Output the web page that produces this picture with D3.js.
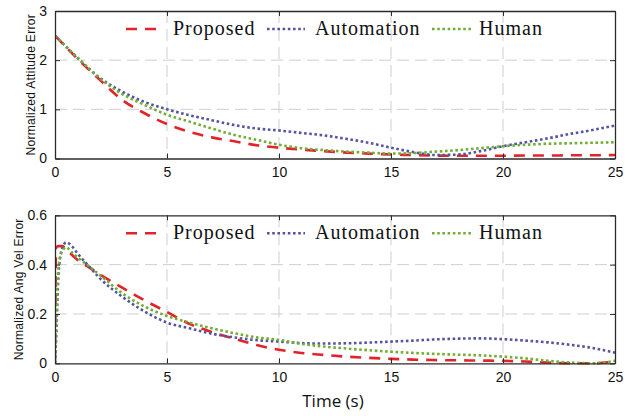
<!DOCTYPE html>
<html>
<head>
<meta charset="utf-8">
<script src="https://cdn.jsdelivr.net/npm/d3@7"></script>
<style>
body{margin:0;background:#fff;}
svg{display:block;}
</style>
</head>
<body>
<svg id="chart" width="635" height="416"></svg>
<script>
//series names and time stamps
var seriesNames = ["Proposed", "Automation", "Human"];
var timeTop = [0,1,2,3,4,5,6,7,8,9,10,11,12,13,14,15,16,17,18,19,20,21,22,23,24,25];
var timeBottom = [0,0.05,0.15,0.3,0.5,0.75,1,1.5,2,3,4,5,6,7,8,9,10,11,12,13,14,15,16,17,18,19,20,21,22,23,24,25];

//normalized attitude error
var attProposed = [2.5,2.03,1.6,1.19,0.92,0.7,0.54,0.43,0.35,0.27,0.22,0.18,0.15,0.12,0.1,0.08,0.07,0.06,0.055,0.055,0.055,0.06,0.06,0.065,0.065,0.07];
var attAutomation = [2.5,2.05,1.64,1.36,1.15,1.0,0.88,0.78,0.68,0.61,0.57,0.52,0.47,0.4,0.32,0.22,0.13,0.07,0.08,0.15,0.25,0.33,0.41,0.5,0.58,0.67];
var attHuman = [2.5,2.05,1.63,1.31,1.09,0.89,0.75,0.61,0.48,0.38,0.28,0.21,0.17,0.14,0.12,0.1,0.11,0.14,0.17,0.21,0.25,0.28,0.3,0.31,0.32,0.33];

//normalized angular velocity error
var velProposed = [0,0.47,0.475,0.475,0.465,0.44,0.42,0.39,0.36,0.307,0.255,0.208,0.16,0.127,0.1,0.074,0.055,0.042,0.034,0.027,0.022,0.018,0.015,0.013,0.012,0.011,0.01,0.007,0.003,0.0,0.0,0.008];
var velAutomation = [0,0.1,0.35,0.46,0.49,0.475,0.446,0.395,0.345,0.27,0.21,0.165,0.142,0.12,0.105,0.094,0.088,0.082,0.08,0.081,0.084,0.088,0.092,0.097,0.1,0.101,0.098,0.092,0.085,0.075,0.062,0.043];
var velHuman = [0,0.15,0.38,0.45,0.47,0.45,0.43,0.395,0.358,0.284,0.23,0.192,0.165,0.142,0.122,0.105,0.095,0.079,0.068,0.06,0.053,0.047,0.042,0.038,0.035,0.032,0.027,0.02,0.01,0.003,0.0,0.01];

//tick values
var xTicks = [0,5,10,15,20,25];
var attTicks = [0,1,2,3];
var velTicks = [0,0.2,0.4,0.6];

var svg = d3.select("#chart");
var left = 55, right = 615;
var colors = ["#e3232b", "#55559f", "#72ad35"];
var dashes = ["11,8", "2.6,2.6", "2.6,2.6"];

var x = d3.scaleLinear().domain([0,25]).range([left,right]);

function drawPanel(id, top, bottom, yMax, yTicks, yFormat, time, seriesList, yLabel, labelX){
	var y = d3.scaleLinear().domain([0,yMax]).range([bottom,top]);
	var g = svg.append("g").attr("class","panel");

	g.append("clipPath").attr("id","clip"+id)
		.append("rect").attr("x",left).attr("y",top-2).attr("width",right-left).attr("height",bottom-top+4);

	//dashed grid
	g.selectAll(".gx").data(xTicks.slice(1,-1)).enter().append("line")
		.attr("x1",function(d){return x(d);}).attr("x2",function(d){return x(d);})
		.attr("y1",top).attr("y2",bottom)
		.attr("stroke","#cfcfcf").attr("stroke-width",1).attr("stroke-dasharray","12,6");
	g.selectAll(".gy").data(yTicks.slice(1,-1)).enter().append("line")
		.attr("x1",left).attr("x2",right)
		.attr("y1",function(d){return y(d);}).attr("y2",function(d){return y(d);})
		.attr("stroke","#cfcfcf").attr("stroke-width",1).attr("stroke-dasharray","12,6");

	//lines
	var line = d3.line()
		.x(function(d){return x(d[0]);})
		.y(function(d){return y(d[1]);})
		.curve(d3.curveMonotoneX);
	seriesList.forEach(function(vals,i){
		g.append("path")
			.datum(time.map(function(t,j){return [t,vals[j]];}))
			.attr("clip-path","url(#clip"+id+")")
			.attr("d",line)
			.attr("fill","none")
			.attr("stroke",colors[i])
			.attr("stroke-width",2.6)
			.attr("stroke-dasharray",dashes[i]);
	});

	//axes, ticks inside on all sides
	var font = "'Liberation Sans', Arial, sans-serif";
	g.append("g").attr("transform","translate(0,"+bottom+")")
		.call(d3.axisBottom(x).tickValues(xTicks).tickSizeInner(-5).tickSizeOuter(0).tickPadding(9))
		.call(styleAxis);
	g.append("g").attr("transform","translate("+left+",0)")
		.call(d3.axisLeft(y).tickValues(yTicks).tickFormat(yFormat).tickSizeInner(-5).tickSizeOuter(0).tickPadding(8))
		.call(styleAxis);
	g.append("g").attr("transform","translate(0,"+top+")")
		.call(d3.axisTop(x).tickValues(xTicks).tickSizeInner(-5).tickSizeOuter(0).tickFormat(""))
		.call(styleAxis);
	g.append("g").attr("transform","translate("+right+",0)")
		.call(d3.axisRight(y).tickValues(yTicks).tickSizeInner(-5).tickSizeOuter(0).tickFormat(""))
		.call(styleAxis);

	function styleAxis(a){
		a.select(".domain").attr("stroke","#2b2b2b").attr("stroke-width",1.3);
		a.selectAll(".tick line").attr("stroke","#2b2b2b").attr("stroke-width",1);
		a.selectAll(".tick text").attr("fill","#111").style("font-family",font).style("font-size","14px");
	}

	//y label
	g.append("text")
		.attr("transform","translate("+labelX+","+((top+bottom)/2)+") rotate(-90)")
		.attr("text-anchor","middle")
		.style("font-family",font).style("font-size","12px").style("letter-spacing","0.3px").attr("fill","#111")
		.text(yLabel);

	//legend
	var legY = top + 18;
	var legItems = [
		{x1:126, x2:162, tx:173},
		{x1:267, x2:305, tx:315},
		{x1:432, x2:472, tx:479}
	];
	seriesNames.forEach(function(name,i){
		var it = legItems[i];
		g.append("line").attr("x1",it.x1).attr("x2",it.x2).attr("y1",legY).attr("y2",legY)
			.attr("stroke",colors[i]).attr("stroke-width",2.6).attr("stroke-dasharray",dashes[i]);
		g.append("text").attr("x",it.tx).attr("y",legY+6)
			.style("font-family","'Liberation Serif', 'Times New Roman', serif")
			.style("font-size","20px").style("letter-spacing","1px").attr("fill","#111")
			.text(name);
	});
}

drawPanel(1, 11, 158.5, 3, attTicks, d3.format("d"), timeTop, [attProposed, attAutomation, attHuman], "Normalized Attitude Error", 35);
drawPanel(2, 215.3, 363.3, 0.6, velTicks, function(d){return d===0 ? "0" : d3.format(".1f")(d);}, timeBottom, [velProposed, velAutomation, velHuman], "Normalized Ang Vel Error", 23);

svg.append("text").attr("x",333).attr("y",407)
	.attr("text-anchor","middle")
	.style("font-family","'Open Sans', sans-serif").style("font-size","17px").attr("fill","#111")
	.text("Time (s)");
</script>
</body>
</html>
